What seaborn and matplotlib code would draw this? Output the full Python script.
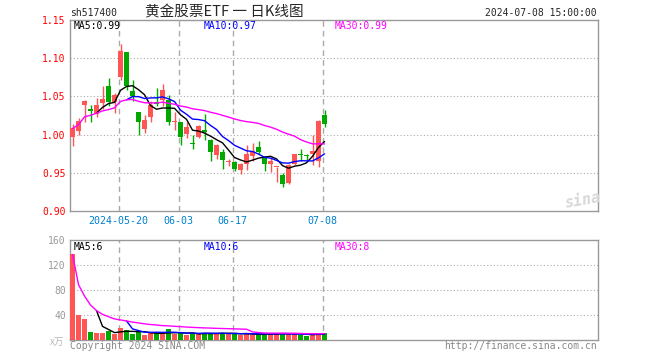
import matplotlib
matplotlib.use("Agg")
import matplotlib.pyplot as plt
import numpy as np
import pandas as pd
import seaborn as sns

# daily OHLC of sh517400
opens = [0.997, 1.005, 1.039, 1.034, 1.027, 1.041, 1.063, 1.043, 1.075, 1.108,
         1.057, 1.029, 1.007, 1.023, 1.043, 1.045, 1.045, 1.017, 1.016, 1.001,
         0.989, 0.997, 1.006, 0.993, 0.973, 0.977, 0.964, 0.964, 0.954, 0.961,
         0.972, 0.984, 0.969, 0.961, 0.957, 0.947, 0.936, 0.961, 0.974, 0.9725,
         0.974, 0.966, 1.026]
highs = [1.014, 1.022, 1.045, 1.039, 1.048, 1.064, 1.074, 1.054, 1.119, 1.108,
         1.071, 1.030, 1.026, 1.044, 1.061, 1.066, 1.052, 1.030, 1.017, 1.016,
         0.999, 1.013, 1.027, 0.994, 0.988, 0.981, 0.968, 0.966, 0.963, 0.987,
         0.989, 0.991, 0.972, 0.970, 0.958, 0.950, 0.962, 0.975, 0.981, 0.975,
         0.999, 1.019, 1.032]
lows = [0.985, 1.000, 1.016, 1.017, 1.023, 1.033, 1.038, 1.028, 1.071, 1.058,
        1.044, 0.999, 1.002, 1.016, 1.038, 1.038, 1.012, 1.006, 0.987, 0.996,
        0.981, 0.996, 0.993, 0.965, 0.968, 0.955, 0.959, 0.952, 0.948, 0.954,
        0.965, 0.975, 0.952, 0.951, 0.938, 0.931, 0.935, 0.960, 0.966, 0.966,
        0.960, 0.958, 1.010]
closes = [1.008, 1.018, 1.044, 1.031, 1.039, 1.046, 1.043, 1.052, 1.110, 1.064,
          1.051, 1.017, 1.019, 1.039, 1.040, 1.059, 1.017, 1.017, 0.997, 1.010,
          0.988, 1.011, 1.004, 0.977, 0.987, 0.967, 0.964, 0.955, 0.961, 0.974,
          0.979, 0.977, 0.962, 0.966, 0.957, 0.935, 0.960, 0.975, 0.973, 0.972,
          0.978, 1.018, 1.014]
# volume in 万
volumes = [137, 40, 34, 13, 11, 11, 15, 9, 19, 16,
           10, 13, 8, 11, 12, 9, 17, 9, 12, 8,
           11, 9, 12, 11, 9, 12, 10, 11, 8, 10,
           8, 9, 11, 9, 10, 12, 9, 10, 8, 7,
           9, 11, 11]

tick_idx = [8, 18, 27, 42]
tick_labels = ["2024-05-20", "06-03", "06-17", "07-08"]
price_ticks = [0.90, 0.95, 1.00, 1.05, 1.10, 1.15]
vol_ticks = [40, 80, 120, 160]

sns.set_style("white")
MONO = "DejaVu Sans Mono"
CJK = ["Noto Sans CJK SC", "DejaVu Sans"]
plt.rcParams["font.family"] = [MONO]

RED = "#ff5555"
GREEN = "#00a800"
GRID = "#aaaaaa"
BORDER = "#999999"

df = pd.DataFrame({"open": opens, "high": highs, "low": lows,
                   "close": closes, "vol": volumes})
df["i"] = np.arange(len(df))
up = df["close"] >= df["open"]
colors = np.where(up, RED, GREEN)
df["ma5"] = df["close"].rolling(5).mean()
df["ma10"] = df["close"].rolling(10).mean()
df["ma30"] = df["close"].rolling(30, min_periods=1).mean()
df["vma5"] = df["vol"].rolling(5).mean()
df["vma10"] = df["vol"].rolling(10).mean()
df["vma30"] = df["vol"].rolling(30, min_periods=1).mean()

W, H = 660, 360
fig = plt.figure(figsize=(6.6, 3.6), dpi=100)
ax = fig.add_axes([70 / W, 1 - 211 / H, 528 / W, 191 / H])
axv = fig.add_axes([70 / W, 1 - 340 / H, 528 / W, 100 / H])


def px(x, y):
    return x / W, 1 - y / H


xlim = (-0.42, 87.58)
grid_x = [t - 0.3 for t in tick_idx]

# price panel
for y in price_ticks[1:-1]:
    ax.axhline(y, color=GRID, ls=(0, (1, 2)), lw=0.8, zorder=0)
for x in grid_x:
    ax.axvline(x, color=GRID, ls=(0, (4, 3)), lw=1, zorder=0)
ax.vlines(df["i"], df["low"], df["high"], colors=colors, lw=1, zorder=2)
body = np.maximum((df["close"] - df["open"]).abs(), 0.0013)
ax.bar(df["i"], body, bottom=np.minimum(df["open"], df["close"]),
       width=0.8, color=colors, lw=0, zorder=3)
for col, c in [("ma5", "black"), ("ma10", "#0000ff"), ("ma30", "#ff00ff")]:
    sns.lineplot(x=df["i"], y=df[col], ax=ax, color=c, lw=1, legend=False, zorder=4)
ax.set_xlim(*xlim)
ax.set_ylim(0.90, 1.15)
ax.set_yticks(price_ticks)
ax.set_yticklabels([f"{v:.2f}" for v in price_ticks], color="red", fontsize=7)
ax.set_xticks(grid_x)
ax.set_xticklabels(tick_labels, color="#0080d0", fontsize=7.2)
ax.tick_params(axis="y", length=0, pad=3)
ax.tick_params(axis="x", length=0, pad=3.5)
ax.set_xlabel("")
ax.set_ylabel("")

# volume panel
for y in vol_ticks[:-1]:
    axv.axhline(y, color=GRID, ls=(0, (1, 2)), lw=0.8, zorder=0)
for x in grid_x:
    axv.axvline(x, color=GRID, ls=(0, (4, 3)), lw=1, zorder=0)
axv.bar(df["i"], df["vol"], width=0.8, color=colors, lw=0, zorder=3)
for col, c in [("vma5", "black"), ("vma10", "#0000ff"), ("vma30", "#ff00ff")]:
    sns.lineplot(x=df["i"], y=df[col], ax=axv, color=c, lw=1, legend=False, zorder=4)
axv.set_xlim(*xlim)
axv.set_ylim(0, 160)
axv.set_yticks(vol_ticks)
axv.set_yticklabels([str(v) for v in vol_ticks], color=BORDER, fontsize=7)
axv.set_xticks([])
axv.tick_params(axis="y", length=0, pad=3)
axv.set_xlabel("")
axv.set_ylabel("")

for a in (ax, axv):
    for s in a.spines.values():
        s.set_color(BORDER)
        s.set_linewidth(1)

# header and labels
fig.text(*px(70, 13), "sh517400", fontsize=7, va="center", ha="left")
fig.text(*px(224, 12.5), "黄金股票ETF 一 日K线图", fontsize=10.5, va="center",
         ha="center", family=CJK)
fig.text(*px(597, 13), "2024-07-08 15:00:00", fontsize=7, va="center", ha="right")

fig.text(*px(74, 26), "MA5:0.99", fontsize=7, va="center", color="black")
fig.text(*px(204, 26), "MA10:0.97", fontsize=7, va="center", color="#0000ff")
fig.text(*px(335, 26), "MA30:0.99", fontsize=7, va="center", color="#ff00ff")
fig.text(*px(74, 247), "MA5:6", fontsize=7, va="center", color="black")
fig.text(*px(204, 247), "MA10:6", fontsize=7, va="center", color="#0000ff")
fig.text(*px(335, 247), "MA30:8", fontsize=7, va="center", color="#ff00ff")

fig.text(*px(64, 342), "x万", fontsize=7, va="center", ha="right",
         color="#bbbbbb", family=CJK)
fig.text(*px(70, 346), "Copyright 2024 SINA.COM", fontsize=7, va="center",
         color="#888888")
fig.text(*px(597, 346), "http://finance.sina.com.cn", fontsize=7, va="center",
         ha="right", color="#888888")
fig.text(*px(583, 200), "sina", fontsize=11, fontweight="bold", style="italic",
         color="#d8d8d8", va="center", ha="center", rotation=10)

fig.savefig("out.png", dpi=100)
